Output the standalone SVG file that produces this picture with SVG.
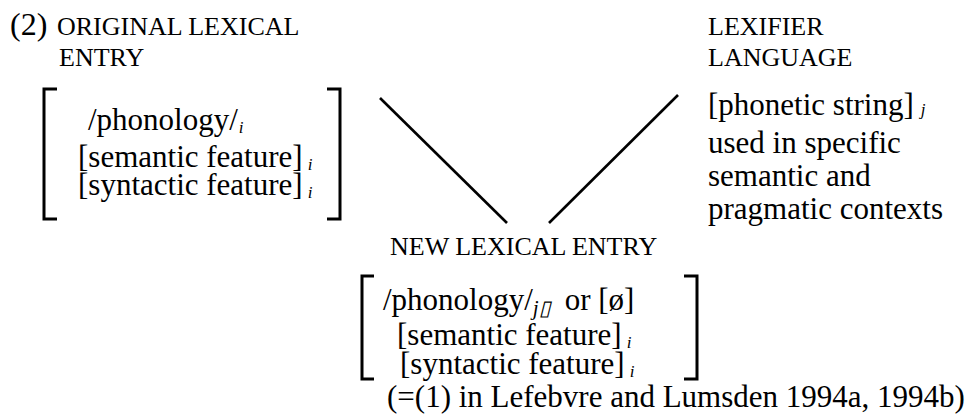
<svg xmlns="http://www.w3.org/2000/svg" width="975" height="415" viewBox="0 0 975 415">
<style>
text { font-family: "Liberation Serif", "Times New Roman", serif; fill: #000; }
.lab { font-size: 26px; }
.body { font-size: 31px; }
.sub { font-size: 17px; font-style: italic; }
.br { fill: none; stroke: #000; stroke-width: 3; }
.conn { stroke: #000; stroke-width: 2.6; stroke-linecap: butt; }
</style>
<rect width="975" height="415" fill="#fff"/>
<g id="title">
<text x="10" y="35" font-size="32">(2)</text>
</g>
<g id="original-entry">
<text class="lab" x="57" y="35">ORIGINAL LEXICAL</text>
<text class="lab" x="59" y="66">ENTRY</text>
<path class="br" d="M57,89 H44 V219 H57"/>
<path class="br" d="M327,89 H340 V219 H327"/>
<text class="body" x="88" y="130">/phonology/<tspan class="sub" dy="3" dx="1">i</tspan></text>
<text class="body" x="78" y="167">[semantic feature]<tspan class="sub" dy="3" dx="5">i</tspan></text>
<text class="body" x="78" y="195">[syntactic feature]<tspan class="sub" dy="3" dx="5">i</tspan></text>
</g>
<g id="lexifier">
<text class="lab" x="708" y="35">LEXIFIER</text>
<text class="lab" x="708" y="66">LANGUAGE</text>
<text class="body" x="708" y="115">[phonetic string]<tspan class="sub" dy="0" dx="7">j</tspan></text>
<text class="body" x="708" y="153">used in specific</text>
<text class="body" x="708" y="186">semantic and</text>
<text class="body" x="708" y="219">pragmatic contexts</text>
</g>
<g id="connectors">
<line class="conn" x1="380" y1="98" x2="507" y2="223"/>
<line class="conn" x1="678" y1="95" x2="549" y2="223"/>
</g>
<g id="new-entry">
<text class="lab" x="390" y="255">NEW LEXICAL ENTRY</text>
<path class="br" d="M374,276 H362 V379 H374"/>
<path class="br" d="M684,276 H697 V379 H684"/>
<text class="body" x="383" y="310">/phonology/<tspan font-size="21" font-style="italic" dy="5">j▯</tspan><tspan dy="-5" dx="14">or [ø]</tspan></text>
<text class="body" x="397" y="345">[semantic feature]<tspan class="sub" dy="3" dx="5">i</tspan></text>
<text class="body" x="400" y="374">[syntactic feature]<tspan class="sub" dy="3" dx="5">i</tspan></text>
<text class="body" x="387" y="407">(=(1) in Lefebvre and Lumsden 1994a, 1994b)</text>
</g>
</svg>
